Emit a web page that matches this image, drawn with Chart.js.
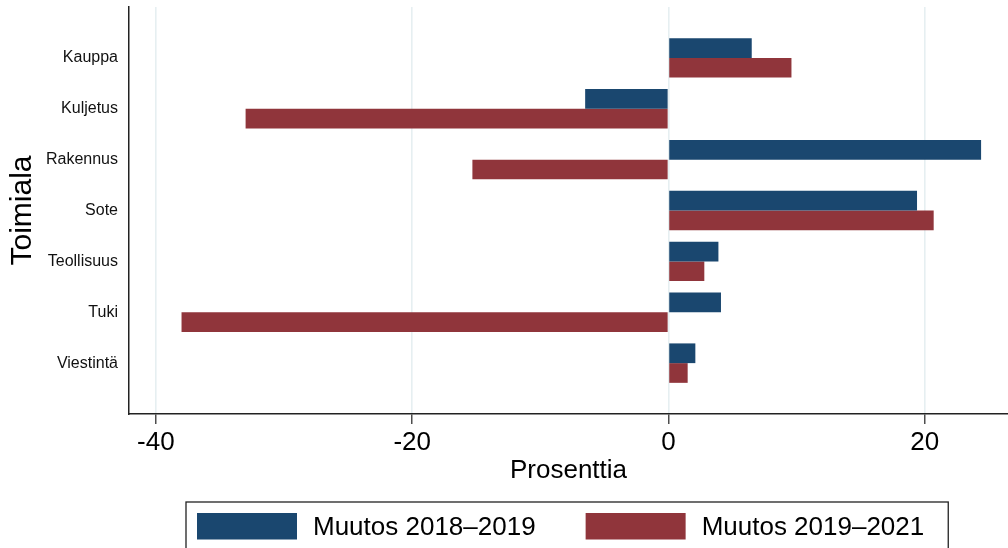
<!DOCTYPE html>
<html>
<head>
<meta charset="utf-8">
<style>
  html, body { margin: 0; padding: 0; background: #fff; }
  #wrap { width: 1008px; height: 548px; position: relative; }
</style>
</head>
<body>
<div id="wrap"><canvas id="barChart"></canvas></div>
<script src="https://cdn.jsdelivr.net/npm/chart.js"></script>
<script>
const categories = ["Kauppa", "Kuljetus", "Rakennus", "Sote", "Teollisuus", "Tuki", "Viestintä"];
const change2018_2019 = [6.5, -6.5, 24.4, 19.4, 3.9, 4.1, 2.1];
const change2019_2021 = [9.6, -33.0, -15.3, 20.7, 2.8, -38.0, 1.5];
const seriesLabels = ["Muutos 2018–2019", "Muutos 2019–2021"];
const xTicks = [-40, -20, 0, 20];

const FONT = "'Liberation Sans', Arial, sans-serif";

// blank slot above and below so the categories sit like in the original
const labels = ["", ...categories, ""];
const pad = arr => [null, ...arr, null];

// simple boxed legend under the plot
const boxLegend = {
  id: "boxLegend",
  afterDraw(chart) {
    const ctx = chart.ctx;
    const ds = chart.data.datasets;
    ctx.save();
    ctx.font = "26px " + FONT;
    ctx.textBaseline = "alphabetic";
    const x = 186, top = 502;
    const swW = 100, swTop = 513, swH = 26.5;
    const items = [];
    let cx = x + 11;
    ds.forEach((d, i) => {
      const tw = ctx.measureText(d.label).width;
      items.push({ x: cx, d });
      cx += swW + 16 + tw + (i < ds.length - 1 ? 50 : 24);
    });
    ctx.strokeStyle = "#222";
    ctx.lineWidth = 1.3;
    ctx.strokeRect(x, top, cx - x, 80);
    items.forEach(it => {
      ctx.fillStyle = it.d.backgroundColor;
      ctx.fillRect(it.x, swTop, swW, swH);
      ctx.fillStyle = "#000";
      ctx.fillText(it.d.label, it.x + swW + 16, 535);
    });
    ctx.restore();
  }
};

new Chart(document.getElementById("barChart"), {
  type: "bar",
  data: {
    labels: labels,
    datasets: [
      {
        label: seriesLabels[0],
        data: pad(change2018_2019),
        backgroundColor: "#1a476f"
      },
      {
        label: seriesLabels[1],
        data: pad(change2019_2021),
        backgroundColor: "#90353b"
      }
    ]
  },
  options: {
    indexAxis: "y",
    responsive: true,
    maintainAspectRatio: false,
    animation: false,
    layout: { padding: { top: 7, right: 0, bottom: 47, left: 0 } },
    datasets: { bar: { categoryPercentage: 0.775, barPercentage: 1.0 } },
    plugins: { legend: { display: false }, tooltip: { enabled: false } },
    scales: {
      x: {
        type: "linear",
        min: -42.1,
        max: 26.5,
        afterBuildTicks: s => { s.ticks = xTicks.map(v => ({ value: v })); },
        afterFit: s => { s.height = 87; s.paddingLeft = 0; s.paddingRight = 0; },
        grid: { color: "#e6eff1", lineWidth: 1.6, tickLength: 10, tickColor: "#222", tickWidth: 1.2 },
        border: { color: "#222", width: 1.5 },
        ticks: { color: "#000", font: { family: FONT, size: 26 }, padding: 3 },
        title: { display: true, text: "Prosenttia", color: "#000", font: { family: FONT, size: 26 }, padding: { top: 0, bottom: 15 } }
      },
      y: {
        type: "category",
        offset: false,
        afterFit: s => { s.width = 129; s.paddingTop = 0; s.paddingBottom = 0; },
        grid: { display: false, drawTicks: false },
        border: { color: "#222", width: 1.5 },
        ticks: { color: "#111", font: { family: FONT, size: 16 }, padding: 11, autoSkip: false },
        title: { display: true, text: "Toimiala", color: "#000", font: { family: FONT, size: 30 }, padding: { top: 5, bottom: 0 } }
      }
    }
  },
  plugins: [boxLegend]
});
</script>
</body>
</html>
